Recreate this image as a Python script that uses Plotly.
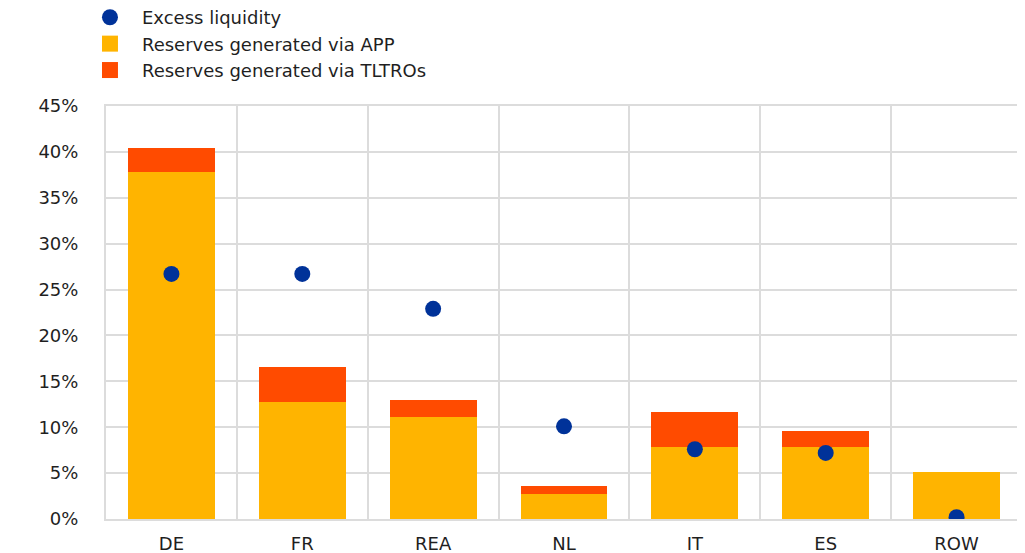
import plotly.graph_objects as go

categories = ["DE", "FR", "REA", "NL", "IT", "ES", "ROW"]
app_reserves = [37.8, 12.8, 11.1, 2.7, 7.9, 7.9, 5.1]
tltro_reserves = [2.6, 3.8, 1.9, 0.9, 3.8, 1.7, 0.0]
excess_liquidity = [26.7, 26.7, 22.9, 10.1, 7.6, 7.2, 0.2]
y_ticks = [0, 5, 10, 15, 20, 25, 30, 35, 40, 45]
y_tick_labels = [f"{v}%" for v in y_ticks]

FONT = "DejaVu Sans, Liberation Sans, Arial, sans-serif"
TXT = "#1f1f1f"
GRID = "#dcdcdc"
C_APP = "#FFB400"
C_TLTRO = "#FF4B00"
C_EL = "#003299"

fig = go.Figure()
fig.add_trace(go.Bar(
    x=categories, y=app_reserves, name="Reserves generated via APP",
    marker=dict(color=C_APP, line=dict(width=0)), showlegend=False,
    legendgroup="app",
))
fig.add_trace(go.Bar(
    x=categories, y=tltro_reserves, name="Reserves generated via TLTROs",
    marker=dict(color=C_TLTRO, line=dict(width=0)), showlegend=False,
    legendgroup="tltro",
))
fig.add_trace(go.Scatter(
    x=categories, y=excess_liquidity, name="Excess liquidity", mode="markers",
    marker=dict(color=C_EL, size=16, symbol="circle"), legendrank=1,
))
# legend entries with larger square swatches
fig.add_trace(go.Scatter(
    x=[None], y=[None], name="Reserves generated via APP", mode="markers",
    marker=dict(color=C_APP, size=18, symbol="square"), legendrank=2,
    legendgroup="app", hoverinfo="skip",
))
fig.add_trace(go.Scatter(
    x=[None], y=[None], name="Reserves generated via TLTROs", mode="markers",
    marker=dict(color=C_TLTRO, size=18, symbol="square"), legendrank=3,
    legendgroup="tltro", hoverinfo="skip",
))

fig.update_layout(
    width=1017, height=545,
    barmode="stack", bargap=0.336,
    paper_bgcolor="white", plot_bgcolor="white",
    margin=dict(l=98, r=3, t=98, b=34, autoexpand=False),
    font=dict(family=FONT, size=18, color=TXT),
    showlegend=True,
    legend=dict(
        x=-0.0306, y=1.259, xanchor="left", yanchor="top",
        xref="paper", yref="paper", traceorder="normal",
        font=dict(family=FONT, size=18, color=TXT),
        tracegroupgap=0, itemwidth=54,
        bgcolor="rgba(0,0,0,0)",
    ),
    xaxis=dict(
        type="category", tickson="boundaries", showgrid=True,
        gridcolor=GRID, gridwidth=2, ticks="", showline=True, linecolor=GRID,
        linewidth=2, mirror=True, tickfont=dict(family=FONT, size=18, color=TXT),
        ticklabelstandoff=7, range=[-0.5, 6.5],
    ),
    yaxis=dict(
        range=[0, 45], tickvals=y_ticks, ticktext=y_tick_labels,
        showgrid=True, gridcolor=GRID, gridwidth=2, zeroline=False,
        showline=True, linecolor=GRID, linewidth=2, mirror=True,
        ticks="", tickfont=dict(family=FONT, size=18, color=TXT),
        ticklabelstandoff=22,
    ),
)

fig.write_html("out.html")
